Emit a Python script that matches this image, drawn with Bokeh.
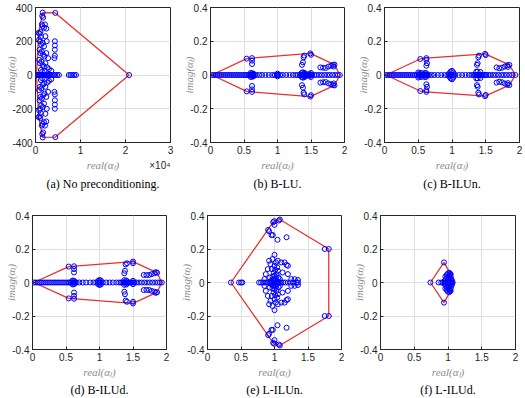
from bokeh.plotting import figure
from bokeh.models import Range1d, FixedTicker, CustomJSTickFormatter, Title, Label
from bokeh.layouts import column, row
from bokeh.embed import file_html
from bokeh.resources import INLINE

# ---------------------------------------------------------------------------
# Spectra (real part, imaginary part) of the system matrix for each variant
# ---------------------------------------------------------------------------

# (a) no preconditioning (real part in absolute units, axis shown x 1e4)
a_re = [220, 400, 600, 800, 900, 1000, 1100, 1200, 1300, 1400, 1500, 1600, 1700,
        1800, 1900, 2000, 2200, 2400, 2600, 2800, 3000, 3300, 3600, 4000, 4400,
        4800, 5200, 7400, 7800, 8200, 8600, 9000, 20800,
        1600, 1600, 4400, 4400, 1500, 1500, 1700, 1700, 700, 700, 900, 900,
        1100, 1100, 800, 800, 1000, 1000, 1200, 1200, 1400, 1400, 1600, 1600,
        1900, 1900, 2100, 2100, 2400, 2400, 1300, 1300, 1600, 1600, 1900, 1900,
        2200, 2200, 2500, 2500, 900, 900, 1100, 1100, 1400, 1400, 1700, 1700,
        2000, 2000, 2400, 2400, 2800, 2800, 800, 800, 1000, 1000, 1300, 1300,
        1600, 1600, 1900, 1900, 2200, 2200, 2600, 2600, 3000, 3000, 3500, 3500,
        1200, 1200, 1500, 1500, 2000, 2000, 4300, 4300, 4300, 4300, 4300, 4300,
        4300, 4300, 4200, 4200]
a_im = [0, 0, 0, 0, 0, 0, 0, 0, 0, 0, 0, 0, 0,
        0, 0, 0, 0, 0, 0, 0, 0, 0, 0, 0, 0,
        0, 0, 0, 0, 0, 0, 0, 0,
        370, -370, 368, -368, 350, -350, 340, -340, 250, -250, 245, -245,
        255, -255, 210, -210, 200, -200, 225, -225, 300, -300, 290, -290,
        280, -280, 300, -300, 275, -275, 180, -180, 190, -190, 170, -170,
        230, -230, 200, -200, 150, -150, 130, -130, 140, -140, 120, -120,
        110, -110, 130, -130, 100, -100, 90, -90, 70, -70, 80, -80,
        60, -60, 50, -50, 70, -70, 45, -45, 35, -35, 25, -25,
        30, -30, 20, -20, 25, -25, 200, -200, 175, -175, 150, -150,
        115, -115, 100, -100]

# (b) B-LU
b_re = [0.02, 0.05, 0.08, 0.11, 0.14, 0.17, 0.2, 0.23, 0.26, 0.29, 0.32, 0.35,
        0.38, 0.41, 0.44, 0.47, 0.5, 0.53, 0.55, 0.57, 0.59, 0.6, 0.61, 0.62,
        0.63, 0.64, 0.66, 0.69, 0.73, 0.77, 0.82, 0.87, 0.92, 0.96, 0.99, 1.0,
        1.01, 1.04, 1.08, 1.13, 1.18, 1.23, 1.27, 1.3, 1.33, 1.35, 1.37, 1.38,
        1.39, 1.4, 1.41, 1.42, 1.44, 1.46, 1.48, 1.5, 1.52, 1.55, 1.58, 1.62,
        1.66, 1.7, 1.74, 1.78, 1.82, 1.86, 1.9, 1.93,
        0.6, 0.6, 0.62, 0.62, 0.64, 0.64, 1.0, 1.0, 1.36, 1.36, 1.38, 1.38,
        1.4, 1.4, 1.42, 1.42, 1.5, 1.5, 1.48, 1.48,
        0.54, 0.54, 0.62, 0.62, 0.62, 0.62, 0.62, 0.62, 1.365, 1.365, 1.38, 1.38,
        1.39, 1.39, 1.4, 1.4, 1.49, 1.49, 1.5, 1.5, 1.64, 1.64, 1.68, 1.68,
        1.72, 1.72, 1.76, 1.76, 1.8, 1.8, 1.83, 1.83, 1.85, 1.85, 1.84, 1.84]
b_im = [0] * 68 + [
        0.012, -0.012, 0.01, -0.01, 0.008, -0.008, 0.008, -0.008, 0.012, -0.012,
        0.016, -0.016, 0.012, -0.012, 0.008, -0.008, 0.012, -0.012, 0.006, -0.006,
        0.097, -0.097, 0.1, -0.1, 0.085, -0.085, 0.065, -0.065, 0.06, -0.06,
        0.075, -0.075, 0.105, -0.105, 0.115, -0.115, 0.128, -0.128, 0.12, -0.12,
        0.045, -0.045, 0.043, -0.043, 0.042, -0.042, 0.05, -0.05, 0.055, -0.055,
        0.06, -0.06, 0.062, -0.062, 0.05, -0.05]

# (c) B-ILUn
c_re = [0.02, 0.05, 0.08, 0.11, 0.14, 0.17, 0.2, 0.23, 0.26, 0.29, 0.32, 0.35,
        0.38, 0.41, 0.44, 0.47, 0.5, 0.52, 0.55, 0.57, 0.59, 0.6, 0.61, 0.62,
        0.63, 0.64, 0.66, 0.7, 0.74, 0.79, 0.84, 0.89, 0.93, 0.96, 0.98, 1.0,
        1.02, 1.05, 1.1, 1.15, 1.2, 1.25, 1.29, 1.32, 1.34, 1.36, 1.37, 1.38,
        1.39, 1.4, 1.41, 1.43, 1.45, 1.47, 1.49, 1.51, 1.54, 1.57, 1.61, 1.65,
        1.69, 1.73, 1.77, 1.81, 1.85, 1.89, 1.94,
        0.98, 0.98, 1.0, 1.0, 1.02, 1.02, 0.96, 0.96, 0.5, 0.5, 0.52, 0.52,
        0.55, 0.55, 1.36, 1.36, 1.38, 1.38, 1.42, 1.42, 0.6, 0.6, 0.62, 0.62,
        0.53, 0.53, 0.62, 0.62, 0.62, 0.62, 0.63, 0.63, 0.62, 0.62, 1.37, 1.37,
        1.38, 1.38, 1.39, 1.39, 1.4, 1.4, 1.49, 1.49, 1.5, 1.5, 1.66, 1.66,
        1.7, 1.7, 1.74, 1.74, 1.78, 1.78, 1.82, 1.82, 1.85, 1.85, 1.83, 1.83]
c_im = [0] * 67 + [
        0.02, -0.02, 0.025, -0.025, 0.015, -0.015, 0.01, -0.01, 0.015, -0.015,
        0.01, -0.01, 0.012, -0.012, 0.02, -0.02, 0.02, -0.02, 0.018, -0.018,
        0.012, -0.012, 0.01, -0.01,
        0.095, -0.095, 0.1, -0.1, 0.09, -0.09, 0.07, -0.07, 0.055, -0.055,
        0.06, -0.06, 0.07, -0.07, 0.105, -0.105, 0.115, -0.115, 0.125, -0.125,
        0.118, -0.118, 0.045, -0.045, 0.04, -0.04, 0.043, -0.043, 0.05, -0.05,
        0.058, -0.058, 0.06, -0.06, 0.048, -0.048]

# (d) B-ILUd
d_re = [0.02, 0.05, 0.08, 0.11, 0.14, 0.17, 0.2, 0.23, 0.26, 0.29, 0.32, 0.35,
        0.38, 0.41, 0.44, 0.47, 0.5, 0.53, 0.55, 0.57, 0.59, 0.6, 0.61, 0.62,
        0.63, 0.64, 0.66, 0.7, 0.75, 0.8, 0.86, 0.91, 0.95, 0.98, 1.0, 1.02,
        1.05, 1.1, 1.15, 1.2, 1.25, 1.29, 1.32, 1.34, 1.36, 1.37, 1.38, 1.39,
        1.4, 1.41, 1.42, 1.44, 1.46, 1.48, 1.5, 1.52, 1.55, 1.59, 1.63, 1.67,
        1.71, 1.75, 1.79, 1.83, 1.87, 1.9, 1.93,
        1.0, 1.0, 0.98, 0.98, 1.02, 1.02, 0.6, 0.6, 0.62, 0.62, 1.37, 1.37,
        1.4, 1.4, 1.5, 1.5,
        0.54, 0.54, 0.62, 0.62, 0.62, 0.62, 0.62, 0.62, 1.37, 1.37, 1.38, 1.38,
        1.39, 1.39, 1.41, 1.41, 1.5, 1.5, 1.5, 1.5, 1.66, 1.66, 1.7, 1.7,
        1.74, 1.74, 1.78, 1.78, 1.82, 1.82, 1.84, 1.84, 1.86, 1.86]
d_im = [0] * 67 + [
        0.015, -0.015, 0.01, -0.01, 0.012, -0.012, 0.012, -0.012, 0.01, -0.01,
        0.014, -0.014, 0.012, -0.012, 0.01, -0.01,
        0.095, -0.095, 0.097, -0.097, 0.08, -0.08, 0.06, -0.06, 0.055, -0.055,
        0.07, -0.07, 0.108, -0.108, 0.115, -0.115, 0.125, -0.125, 0.115, -0.115,
        0.045, -0.045, 0.044, -0.044, 0.045, -0.045, 0.05, -0.05, 0.055, -0.055,
        0.062, -0.062, 0.058, -0.058]

# (e) L-ILUn
e_re = [0.35, 0.47, 0.5, 0.52, 0.77, 0.8, 0.83, 0.86, 0.89, 0.92, 0.94, 0.96,
        0.98, 1.0, 1.02, 1.04, 1.06, 1.08, 1.1, 1.13, 1.16, 1.2, 1.24, 1.28,
        1.33, 1.35,
        0.95, 0.95, 0.98, 0.98, 1.0, 1.0, 1.02, 1.02, 1.04, 1.04, 0.97, 0.97,
        1.0, 1.0, 1.03, 1.03, 1.06, 1.06, 1.08, 1.08, 0.93, 0.93, 0.99, 0.99,
        1.01, 1.01, 1.05, 1.05, 0.96, 0.96, 1.0, 1.0, 1.04, 1.04, 0.94, 0.94,
        1.02, 1.02, 0.97, 0.97, 1.05, 1.05, 1.1, 1.1, 1.15, 1.15, 1.18, 1.18,
        1.2, 1.2, 0.9, 0.9, 0.87, 0.87, 0.85, 0.85, 1.12, 1.12, 1.2, 1.2,
        1.25, 1.25, 1.3, 1.3, 1.35, 1.35, 1.0, 1.0, 0.92, 0.92,
        0.905, 0.905, 0.92, 0.92, 0.955, 0.955, 0.975, 0.975, 0.98, 0.98,
        0.995, 0.995, 1.0, 1.0, 1.08, 1.08, 1.065, 1.065, 1.045, 1.045,
        1.18, 1.18, 1.75, 1.75, 1.81, 1.81]
e_im = [0] * 26 + [
        0.01, -0.01, 0.02, -0.02, 0.015, -0.015, 0.025, -0.025, 0.01, -0.01,
        0.035, -0.035, 0.04, -0.04, 0.05, -0.05, 0.03, -0.03, 0.02, -0.02,
        0.03, -0.03, 0.06, -0.06, 0.075, -0.075, 0.07, -0.07, 0.08, -0.08,
        0.1, -0.1, 0.09, -0.09, 0.11, -0.11, 0.12, -0.12, 0.14, -0.14,
        0.13, -0.13, 0.12, -0.12, 0.12, -0.12, 0.105, -0.105, 0.1, -0.1,
        0.08, -0.08, 0.05, -0.05, 0.02, -0.02, 0.06, -0.06, 0.05, -0.05,
        0.02, -0.02, 0.02, -0.02, 0.015, -0.015, 0.165, -0.165, 0.13, -0.13,
        0.314, -0.314, 0.306, -0.306, 0.283, -0.283, 0.283, -0.283, 0.36, -0.36,
        0.366, -0.366, 0.344, -0.344, 0.376, -0.376, 0.37, -0.37, 0.255, -0.255,
        0.27, -0.27, 0.2, -0.2, 0.2, -0.2]

# (f) L-ILUd
f_re = [0.74, 0.86, 0.9, 0.93, 0.95, 0.97, 0.99, 1.01, 1.03, 1.05, 1.07,
        0.94, 0.94, 0.95, 0.95, 0.97, 0.97, 0.99, 0.99, 1.01, 1.01, 1.03, 1.03,
        1.0, 1.0, 1.02, 1.02, 1.04, 1.04, 1.05, 1.05, 1.06, 1.06, 0.98, 0.98,
        1.0, 1.0, 1.02, 1.02, 0.96, 0.96, 1.04, 1.04]
f_im = [0] * 11 + [
        0.12, -0.12, 0.01, -0.01, 0.02, -0.02, 0.03, -0.03, 0.04, -0.04,
        0.05, -0.05, 0.015, -0.015, 0.025, -0.025, 0.035, -0.035, 0.02, -0.02,
        0.01, -0.01, 0.045, -0.045, 0.055, -0.055, 0.058, -0.058, 0.035, -0.035,
        0.05, -0.05]

captions = ["(a) No preconditioning.", "(b) B-LU.", "(c) B-ILUn.",
            "(d) B-ILUd.", "(e) L-ILUn.", "(f) L-ILUd."]
ticks_unit = [0, 0.5, 1, 1.5, 2]
ticks_imag = [-0.4, -0.2, 0, 0.2, 0.4]
ticks_a_re = [0, 10000, 20000, 30000]
ticks_a_im = [-400, -200, 0, 200, 400]

MARKER = "#0000ff"
HULL = "#e8302c"
INK = "#262626"
LABEL_GRAY = "#8c8c8c"


def convex_hull(xs, ys):
    """Closed convex hull polygon (monotone chain)."""
    pts = sorted(set(zip(xs, ys)))

    def cross(o, a, b):
        return (a[0] - o[0]) * (b[1] - o[1]) - (a[1] - o[1]) * (b[0] - o[0])

    lower, upper = [], []
    for pt in pts:
        while len(lower) >= 2 and cross(lower[-2], lower[-1], pt) <= 0:
            lower.pop()
        lower.append(pt)
    for pt in reversed(pts):
        while len(upper) >= 2 and cross(upper[-2], upper[-1], pt) <= 0:
            upper.pop()
        upper.append(pt)
    ring = lower[:-1] + upper[:-1]
    ring.append(ring[0])
    return [q[0] for q in ring], [q[1] for q in ring]


FMT_UNIT = CustomJSTickFormatter(code="""
    const s = tick.toFixed(1);
    return s.endsWith('.0') ? s.slice(0, -2) : s;
""")


def panel(xs, ys, caption, xr, yr, xt, yt, xfmt, yfmt,
          fw, fh, bl, br, bt, bb, cap_gap):
    p = figure(frame_width=fw, frame_height=fh,
               x_range=Range1d(*xr), y_range=Range1d(*yr),
               min_border_left=bl, min_border_right=br,
               min_border_top=bt, min_border_bottom=bb,
               output_backend="svg", toolbar_location=None)
    p.background_fill_color = "white"
    p.border_fill_color = "white"
    p.outline_line_color = INK
    p.outline_line_width = 1

    p.xaxis.ticker = FixedTicker(ticks=xt)
    p.yaxis.ticker = FixedTicker(ticks=yt)
    p.xgrid.ticker = FixedTicker(ticks=xt)
    p.ygrid.ticker = FixedTicker(ticks=yt)
    p.xaxis.formatter = xfmt
    p.yaxis.formatter = yfmt
    p.grid.grid_line_color = "#dedede"
    p.grid.grid_line_width = 1

    for ax in (p.xaxis[0], p.yaxis[0]):
        ax.axis_line_color = INK
        ax.major_tick_line_color = INK
        ax.major_tick_in = 3
        ax.major_tick_out = 0
        ax.minor_tick_line_color = None
        ax.major_label_text_font = "Liberation Sans"
        ax.major_label_text_font_size = "10px"
        ax.major_label_text_color = INK
        ax.axis_label_text_font = "Liberation Serif"
        ax.axis_label_text_font_style = "italic"
        ax.axis_label_text_font_size = "11px"
        ax.axis_label_text_color = LABEL_GRAY
    p.xaxis.major_label_standoff = 3
    p.xaxis.axis_label_standoff = 2
    # the rotated label sits level with the short "0" tick label only,
    # so it may tuck in closer than the widest tick label
    p.yaxis.major_label_standoff = 3
    p.yaxis.axis_label_standoff = -8
    p.xaxis.axis_label = "real(αₗ)"
    p.yaxis.axis_label = "imag(αₗ)"

    hx, hy = convex_hull(xs, ys)
    p.line(hx, hy, line_color=HULL, line_width=1.3)
    p.scatter(xs, ys, marker="circle", size=5, fill_color=None,
              line_color=MARKER, line_width=1)

    p.add_layout(Title(text=caption, align="center", text_font="Liberation Serif",
                       text_font_size="12px", text_font_style="normal",
                       text_color="black", standoff=cap_gap), "below")
    return p


FMT_A_X = CustomJSTickFormatter(code="return (tick / 10000).toFixed(0);")
FMT_A_Y = CustomJSTickFormatter(code="return tick.toFixed(0);")

# top row
pa = panel(a_re, a_im, captions[0], (0, 30000), (-400, 400), ticks_a_re, ticks_a_im,
           FMT_A_X, FMT_A_Y, 135, 135, 35, 5, 7, 58, 3)
# exponent of the real axis, below the right end of the axis
pa.add_layout(Label(x=30000, y=-400, text="×10⁴", text_align="right",
                    text_baseline="top", y_offset=-17,
                    text_font="Liberation Sans", text_font_size="10px",
                    text_color=INK), "below")
pb = panel(b_re, b_im, captions[1], (0, 2), (-0.4, 0.4), ticks_unit, ticks_imag,
           FMT_UNIT, FMT_UNIT, 134, 135, 35, 6, 7, 58, 3)
pc = panel(c_re, c_im, captions[2], (0, 2), (-0.4, 0.4), ticks_unit, ticks_imag,
           FMT_UNIT, FMT_UNIT, 135, 135, 34, 3, 7, 58, 3)

# bottom row
pd = panel(d_re, d_im, captions[3], (0, 2), (-0.4, 0.4), ticks_unit, ticks_imag,
           FMT_UNIT, FMT_UNIT, 134, 134, 32, 9, 12, 40, 1)
pe = panel(e_re, e_im, captions[4], (0, 2), (-0.4, 0.4), ticks_unit, ticks_imag,
           FMT_UNIT, FMT_UNIT, 134, 134, 32, 8, 12, 40, 1)
pf = panel(f_re, f_im, captions[5], (0, 2), (-0.4, 0.4), ticks_unit, ticks_imag,
           FMT_UNIT, FMT_UNIT, 135, 134, 31, 3, 12, 40, 1)

layout = column(row(pa, pb, pc), row(pd, pe, pf))

open("out.html", "w").write(file_html(layout, INLINE))
